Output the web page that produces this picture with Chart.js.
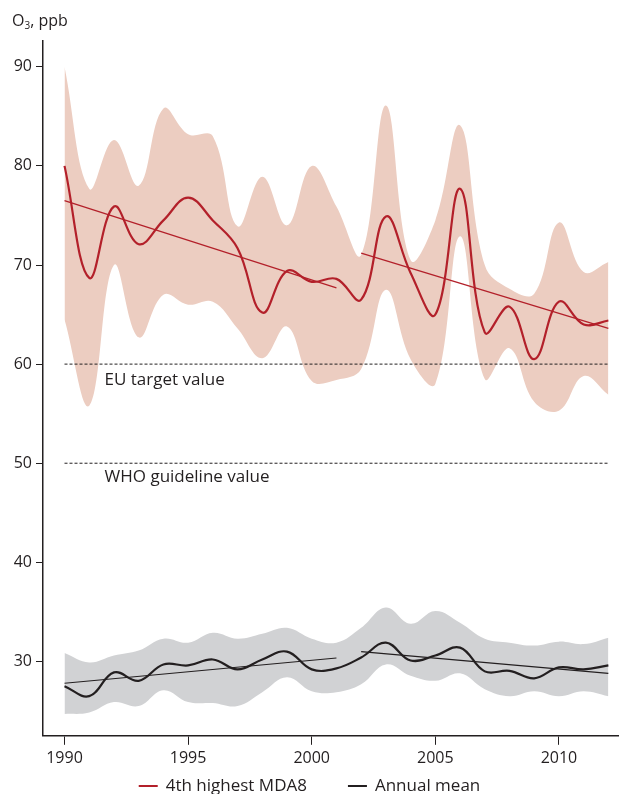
<!DOCTYPE html>
<html>
<head>
<meta charset="utf-8">
<script src="https://cdn.jsdelivr.net/npm/chart.js@4.4.0/dist/chart.umd.min.js"></script>
<style>
  html, body { margin: 0; padding: 0; background: #fff; }
  #o3Chart { display: block; }
</style>
</head>
<body>
<canvas id="o3Chart" width="619" height="794"></canvas>
<script>
const years = [1990, 1991, 1992, 1993, 1994, 1995, 1996, 1997, 1998, 1999, 2000, 2001,
               2002, 2003, 2004, 2005, 2006, 2007, 2008, 2009, 2010, 2011, 2012];

// 4th highest MDA8 (ppb) and its spread
const mda8      = [80, 68.7, 75.9, 72.1, 74.5, 76.8, 74.5, 71.7, 65.2, 69.4, 68.3, 68.6,
                   66.5, 74.9, 69.2, 65.0, 77.7, 63.2, 65.8, 60.5, 66.3, 64.0, 64.4];
const mda8Upper = [90, 77.7, 82.6, 78.0, 85.8, 83.2, 83.0, 73.9, 78.9, 74.0, 80.0, 75.9,
                   71.0, 86.1, 70.5, 74.5, 84.1, 70.0, 67.6, 67.1, 74.3, 69.3, 70.3];
const mda8Lower = [64.5, 55.8, 70.0, 62.7, 67.0, 66.0, 66.3, 63.6, 60.6, 63.8, 58.3, 58.4,
                   59.5, 67.5, 60.5, 58.0, 72.9, 58.5, 61.6, 56.2, 55.3, 58.8, 56.9];

// Annual mean (ppb) and its spread
const annualMean = [27.5, 26.5, 28.9, 28.05, 29.7, 29.6, 30.2, 29.2, 30.2, 31.0, 29.2, 29.3,
                    30.4, 31.9, 30.1, 30.6, 31.4, 29.0, 29.05, 28.3, 29.4, 29.2, 29.6];
const meanUpper  = [30.85, 29.9, 30.6, 31.1, 32.3, 31.9, 32.9, 32.3, 32.8, 33.4, 32.3, 31.9,
                    33.4, 35.45, 33.8, 35.1, 33.9, 32.3, 31.9, 31.6, 32.0, 31.75, 32.4];
const meanLower  = [24.7, 24.85, 25.9, 25.5, 27.1, 25.9, 25.8, 25.5, 26.9, 28.4, 27.0, 26.9,
                    27.7, 29.7, 28.55, 28.05, 28.8, 27.2, 26.5, 27.0, 26.5, 27.0, 26.5];

// trend lines [start, end]
const trendYears1 = [1990, 2001];
const trendYears2 = [2002, 2012];
const mda8Trend1 = [76.5, 67.7];
const mda8Trend2 = [71.2, 63.6];
const meanTrend1 = [27.8, 30.35];
const meanTrend2 = [31.0, 28.8];

// reference values
const refYears = [1990, 2012];
const euTarget = 60;
const whoGuideline = 50;

const xTicks = [1990, 1995, 2000, 2005, 2010];
const yTicks = [30, 40, 50, 60, 70, 80, 90];

const FONT = '"Open Sans", "Noto Sans", sans-serif';
const INK = '#231f20';
const RED = '#b3202a';

const serie = vals => vals.map((v, i) => ({ x: years[i], y: v }));
const par = (xs, ys) => xs.map((x, i) => ({ x: x, y: ys[i] }));

function base(extra) {
  return Object.assign({ pointRadius: 0, pointHoverRadius: 0, fill: false }, extra);
}

// textos, titulo del eje y leyenda
const etiquetas = {
  id: 'etiquetas',
  afterDraw(chart) {
    const { ctx } = chart;
    const x = chart.scales.x, y = chart.scales.y;
    ctx.save();
    ctx.fillStyle = INK;
    ctx.textBaseline = 'middle';
    ctx.textAlign = 'left';
    ctx.font = '17px ' + FONT;
    ctx.fillText('EU target value', x.getPixelForValue(1991.62), y.getPixelForValue(58.42));
    ctx.fillText('WHO guideline value', x.getPixelForValue(1991.62), y.getPixelForValue(48.55));

    // O3, ppb
    ctx.textBaseline = 'alphabetic';
    ctx.font = '16px ' + FONT;
    ctx.fillText('O', 12, 26);
    let w = ctx.measureText('O').width;
    ctx.font = '10px ' + FONT;
    ctx.fillText('3', 12 + w, 29);
    w += ctx.measureText('3').width;
    ctx.font = '16px ' + FONT;
    ctx.fillText(', ppb', 12 + w, 26);

    // leyenda
    const items = [chart.data.datasets[4], chart.data.datasets[5]];
    ctx.font = '17px ' + FONT;
    ctx.textBaseline = 'middle';
    const lineW = 19, gap = 8, sep = 41, ly = 786;
    const widths = items.map(d => lineW + gap + ctx.measureText(d.label).width);
    let lx = 309.5 - (widths[0] + sep + widths[1]) / 2;
    items.forEach((d, i) => {
      ctx.strokeStyle = d.borderColor;
      ctx.lineWidth = 2;
      ctx.beginPath();
      ctx.moveTo(lx, ly);
      ctx.lineTo(lx + lineW, ly);
      ctx.stroke();
      ctx.fillText(d.label, lx + lineW + gap, ly);
      lx += widths[i] + sep;
    });
    ctx.restore();
  }
};

const ctx = document.getElementById('o3Chart').getContext('2d');

const o3Chart = new Chart(ctx, {
  type: 'line',
  data: {
    datasets: [
      base({ label: 'mda8 upper', data: serie(mda8Upper), borderWidth: 0, borderColor: 'rgba(0,0,0,0)',
             backgroundColor: '#eccdc1', fill: '+1', tension: 0.4 }),
      base({ label: 'mda8 lower', data: serie(mda8Lower), borderWidth: 0, borderColor: 'rgba(0,0,0,0)', tension: 0.4 }),
      base({ label: 'mean upper', data: serie(meanUpper), borderWidth: 0, borderColor: 'rgba(0,0,0,0)',
             backgroundColor: '#d1d2d4', fill: '+1', tension: 0.4 }),
      base({ label: 'mean lower', data: serie(meanLower), borderWidth: 0, borderColor: 'rgba(0,0,0,0)', tension: 0.4 }),
      base({ label: '4th highest MDA8', data: serie(mda8), borderColor: RED, borderWidth: 2.2, tension: 0.4 }),
      base({ label: 'Annual mean', data: serie(annualMean), borderColor: INK, borderWidth: 2.2, tension: 0.4 }),
      base({ label: 'mda8 trend 1', data: par(trendYears1, mda8Trend1), borderColor: RED, borderWidth: 1.3 }),
      base({ label: 'mda8 trend 2', data: par(trendYears2, mda8Trend2), borderColor: RED, borderWidth: 1.3 }),
      base({ label: 'mean trend 1', data: par(trendYears1, meanTrend1), borderColor: INK, borderWidth: 1.2 }),
      base({ label: 'mean trend 2', data: par(trendYears2, meanTrend2), borderColor: INK, borderWidth: 1.2 }),
      base({ label: 'EU target', data: par(refYears, [euTarget, euTarget]), borderColor: INK, borderWidth: 1, borderDash: [3, 2] }),
      base({ label: 'WHO guideline', data: par(refYears, [whoGuideline, whoGuideline]), borderColor: INK, borderWidth: 1, borderDash: [3, 2] })
    ]
  },
  options: {
    responsive: false,
    animation: false,
    layout: { padding: { top: 41, right: 0, left: 0, bottom: 22 } },
    plugins: {
      tooltip: { enabled: false },
      legend: { display: false },
      filler: { drawTime: 'beforeDatasetsDraw' }
    },
    scales: {
      x: {
        type: 'linear',
        min: 1989.13,
        max: 2012.43,
        afterBuildTicks: s => { s.ticks = xTicks.map(v => ({ value: v })); },
        grid: { drawOnChartArea: false, drawTicks: true, tickLength: 9, color: INK, lineWidth: 1 },
        border: { display: true, color: INK, width: 1.5 },
        ticks: { color: INK, padding: 4, maxRotation: 0, autoSkip: false, font: { size: 16, family: FONT },
                 callback: v => String(v) }
      },
      y: {
        min: 22.5,
        max: 92.6,
        afterBuildTicks: s => { s.ticks = yTicks.map(v => ({ value: v })); },
        afterFit: s => { s.width = 43; },
        grid: { drawOnChartArea: false, drawTicks: true, tickLength: 7, color: INK, lineWidth: 1 },
        border: { display: true, color: INK, width: 1.5 },
        ticks: { color: INK, padding: 4, font: { size: 16, family: FONT },
                 callback: v => String(v) }
      }
    }
  },
  plugins: [etiquetas]
});
</script>
</body>
</html>
